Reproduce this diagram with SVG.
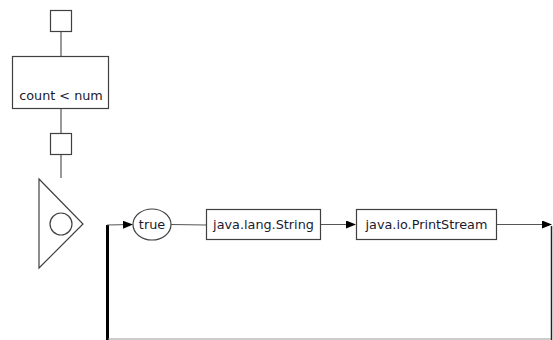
<svg xmlns="http://www.w3.org/2000/svg" width="553" height="340" viewBox="0 0 553 340">
<style>
.n{fill:#fff;stroke:#404040;stroke-width:1.2}
.t{font-family:"DejaVu Sans",Verdana,sans-serif;font-size:12.8px;fill:#1a1a2e}
.c{fill:none;stroke:#555;stroke-width:1.2}
</style>
<defs>
<marker id="ah" markerWidth="10" markerHeight="8" refX="9" refY="4" orient="auto" markerUnits="userSpaceOnUse">
<path d="M0,0 L10,4 L0,8 Z" fill="#000"/>
</marker>
</defs>
<rect width="553" height="340" fill="#fff"/>
<g id="connectors">
<line class="c" x1="61" y1="32" x2="61" y2="56" stroke="#000"/>
<line class="c" x1="61" y1="109" x2="61" y2="133" stroke="#000"/>
<line class="c" x1="61" y1="155" x2="61" y2="178"/>
<line x1="107.5" y1="225" x2="107.5" y2="340" stroke="#000" stroke-width="3"/>
<polyline class="c" points="107,225 132,224.5" marker-end="url(#ah)"/>
<line class="c" x1="171" y1="224.5" x2="206" y2="225"/>
<line class="c" x1="321" y1="224.5" x2="355" y2="224.5" marker-end="url(#ah)"/>
<line class="c" x1="497" y1="224.5" x2="551" y2="224.5" marker-end="url(#ah)"/>
<line x1="551.5" y1="226" x2="551.5" y2="340" stroke="#222" stroke-width="1.5"/>
<line x1="108" y1="339" x2="551" y2="339" stroke="#999" stroke-width="1.2"/>
</g>
<g id="top-port"><rect class="n" x="50.5" y="10.5" width="21" height="21"/></g>
<g id="cond"><rect class="n" x="12.5" y="56.5" width="96" height="52"/><text class="t" x="61" y="100" text-anchor="middle">count &lt; num</text></g>
<g id="bottom-port"><rect class="n" x="50.5" y="133.5" width="21" height="21"/></g>
<g id="loop"><polygon class="n" points="39,179 83,224 39,268" stroke="#666"/><circle class="n" cx="61" cy="224" r="11" stroke="#666"/></g>
<g id="true"><ellipse class="n" cx="152" cy="224.5" rx="19" ry="15.5"/><text class="t" x="152" y="229" text-anchor="middle">true</text></g>
<g id="string"><rect class="n" x="206.5" y="209.5" width="114" height="30"/><text class="t" x="263.5" y="229" text-anchor="middle">java.lang.String</text></g>
<g id="printstream"><rect class="n" x="356.5" y="209.5" width="140" height="30"/><text class="t" x="426.5" y="229" text-anchor="middle">java.io.PrintStream</text></g>
</svg>
